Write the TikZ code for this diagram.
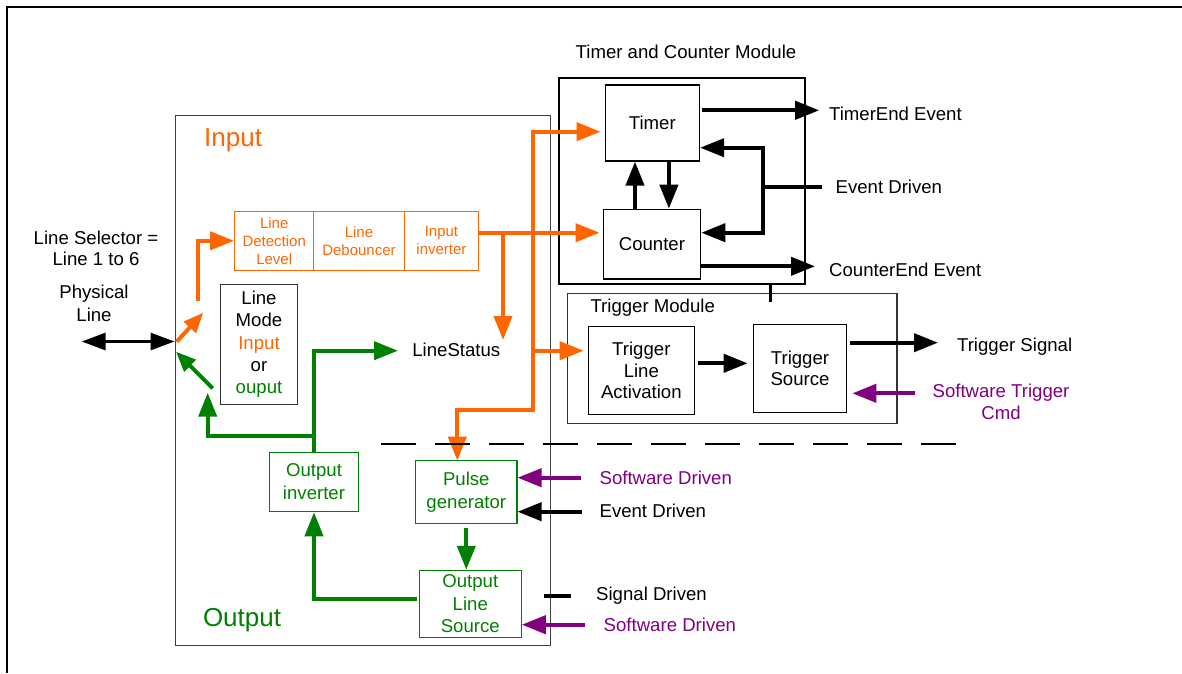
\documentclass[tikz,border=0pt]{standalone}
\usepackage{fontspec}
\setmainfont{Liberation Sans}
\usetikzlibrary{arrows.meta}
\definecolor{orng}{HTML}{FF6600}
\definecolor{grn}{HTML}{008000}
\definecolor{purp}{HTML}{800080}
\newcommand\fm{\fontsize{18.6}{22}\selectfont}
\newcommand\fo{\fontsize{15}{18}\selectfont}
\newcommand\fb{\fontsize{26}{30}\selectfont}
\begin{document}
\begin{tikzpicture}[x=1pt,y=-1pt,
  every node/.style={font=\fm,inner sep=0pt,align=center},
  bx/.style={draw=black,line width=1.2pt},
  obx/.style={draw=orng,line width=1pt,text=orng,font=\fo,minimum height=59pt},
  gbx/.style={draw=grn,line width=1.1pt,text=grn},
  tip/.style={-{Triangle[length=24pt,width=18pt]}},
  stip/.style={-{Triangle[length=20pt,width=16pt]}},
  barr/.style={draw=black,line width=4pt,tip},
  oarr/.style={draw=orng,line width=4pt,tip},
  garr/.style={draw=grn,line width=4pt,tip},
  parr/.style={draw=purp,line width=4pt,tip},
  bline/.style={draw=black,line width=4pt},
]
\useasboundingbox (0,0) rectangle (1182,673);
% outer frame
\draw[line width=2pt] (6.9,673) -- (6.9,7) -- (1182,7);

% boxes
\node[draw=black!75,line width=1pt,minimum width=375pt,minimum height=530.5pt] (main) at (362.5,380.25) {};
\node[draw,line width=2.2pt,minimum width=245.8pt,minimum height=206pt] (tcm) at (681.8,181.3) {};
\node[bx,minimum width=94.3pt,minimum height=76pt] (timer) at (652.35,123) {Timer};
\node[bx,minimum width=97.5pt,minimum height=69.7pt] (counter) at (651.95,244.15) {Counter};
\node[draw=black!80,line width=1.5pt,minimum width=329.6pt,minimum height=130pt] (trig) at (732.2,358.3) {};
\node[bx,minimum width=106.1pt,minimum height=87.6pt,font=\fontsize{18.6}{21.7}\selectfont] (tla) at (641.35,370.5) {Trigger\\Line\\Activation};
\node[bx,minimum width=93.4pt,minimum height=88pt,font=\fontsize{18.6}{21.7}\selectfont] (ts) at (800,368.3) {Trigger\\Source};

\node[obx,minimum width=79.2pt] (ldl) at (274.2,240.8) {Line\\Detection\\Level};
\node[obx,minimum width=90.3pt] (ldb) at (358.95,240.8) {Line\\Debouncer};
\node[obx,minimum width=74.7pt] (iinv) at (441.45,240.8) {Input\\inverter};

\node[draw=black!80,line width=1.2pt,minimum width=76.6pt,minimum height=120pt,font=\fontsize{18.6}{22.4}\selectfont] (lm) at (259,344.3) {Line\\Mode\\\textcolor{orng}{Input}\\or\\\textcolor{grn}{ouput}};

\node[gbx,minimum width=89.2pt,minimum height=59.4pt,font=\fontsize{18.6}{23}\selectfont] (oinv) at (314,482) {Output\\inverter};
\node[gbx,minimum width=101.4pt,minimum height=62.6pt,font=\fontsize{18.6}{22.6}\selectfont] (pgen) at (466.3,492) {Pulse\\generator};
\node[gbx,minimum width=101.8pt,minimum height=67pt,font=\fontsize{18.6}{22.5}\selectfont] (ols) at (470.3,603.8) {Output\\Line\\Source};

% labels
\node (tcml) at (686,51.7) {Timer and Counter Module};
\node[anchor=west] (tel) at (828.9,114) {TimerEnd Event};
\node[anchor=west] (edl) at (835.4,186.5) {Event Driven};
\node[anchor=west] (cel) at (829,270) {CounterEnd Event};
\node[anchor=west] (tml) at (590.3,308) {Trigger Module};
\node[anchor=west] (tsl) at (956.9,346.7) {Trigger Signal};
\node[text=purp,font=\fontsize{18.6}{21.7}\selectfont] (stl) at (1001,402) {Software Trigger\\Cmd};
\node[anchor=west] (lsl) at (412.2,350) {LineStatus};
\node[anchor=west,text=purp] (sw1) at (599.4,477.7) {Software Driven};
\node[anchor=west] (ed2) at (599.4,511) {Event Driven};
\node[anchor=west] (sdl) at (596,595.3) {Signal Driven};
\node[anchor=west,text=purp] (sw2) at (603.5,625) {Software Driven};
\node[font=\fontsize{18.6}{21.6}\selectfont] (lsel) at (96,248.5) {Line Selector =\\Line 1 to 6};
\node[font=\fontsize{18.6}{23.3}\selectfont] (phys) at (94,303.3) {Physical\\Line};
\node[anchor=west,font=\fb,text=orng] (inl) at (204,140) {Input};
\node[anchor=west,font=\fb,text=grn] (outl) at (202.8,620) {Output};

% physical line
\coordinate (plL) at (81.7,341.5);
\draw[line width=3pt,{Triangle[length=24pt,width=17pt]}-{Triangle[length=24pt,width=17pt]}] (plL) -- (main.west |- plL);

% orange connectors
\coordinate (od1) at (176.7,341.7);
\coordinate (od2) at (203.3,312.7);
\draw[draw=orng,line width=4pt,stip] (od1) -- (od2);
\coordinate (ov1) at (197.7,300.7);
\draw[oarr] (ov1) |- (ldl.west);
\coordinate (oy1) at (0,232.7);
\draw[oarr,shorten >=3pt] (iinv.east |- oy1) -- (counter.west |- oy1);
\coordinate (ob1) at (503,232.7);
\coordinate (ob2) at (503,340);
\draw[oarr] (ob1) -- (ob2);
\coordinate (ot) at (0,131.7);
\coordinate (oc) at (533,410);
\coordinate (pgin) at (457.3,460.7);
\draw[draw=orng,line width=4pt,{Triangle[length=24pt,width=18pt]}-{Triangle[length=24pt,width=18pt]},shorten <=4pt] (timer.west |- ot) -| (oc) -| (pgin);
\coordinate (oy3) at (0,350.7);
\draw[oarr,shorten >=4pt] (oc |- oy3) -- (tla.west |- oy3);

% green connectors
\coordinate (gd1) at (212.7,388.3);
\coordinate (gd2) at (176,351.7);
\draw[draw=grn,line width=4pt,stip] (gd1) -- (gd2);
\coordinate (gj) at (313.8,436);
\coordinate (lmup) at (207.7,392.7);
\draw[garr] (gj) -| (lmup);
\coordinate (lsa) at (398,350.7);
\draw[garr] (oinv.north) |- (lsa);
\coordinate (olsw) at (417,599.3);
\draw[garr] (olsw) -| (oinv.south);
\draw[garr] ([yshift=-4pt]pgen.south) -- (pgen.south |- ols.north);

% timer / counter
\coordinate (xa) at (635,0);
\coordinate (xb) at (668.9,0);
\draw[barr] (counter.north -| xa) -- (timer.south -| xa);
\draw[barr] (timer.south -| xb) -- (counter.north -| xb);
\coordinate (teE) at (819.2,110.3);
\draw[barr] ([xshift=2pt]timer.east |- teE) -- (teE);
\coordinate (edc) at (822,186.7);
\coordinate (evx) at (762.8,186.7);
\draw[bline] (edc) -- (evx);
\coordinate (ey1) at (0,147.7);
\coordinate (ey2) at (0,232.7);
\draw[barr] (evx) |- (timer.east |- ey1);
\draw[barr] (evx) |- (counter.east |- ey2);
\coordinate (ceE) at (815,266.3);
\draw[barr] (counter.east |- ceE) -- (ceE);
\coordinate (cn1) at (770,301.7);
\draw[line width=3pt] (tcm.south -| cn1) -- (cn1);

% trigger module
\coordinate (ty) at (0,363.3);
\draw[barr,shorten >=5pt] ([xshift=2.6pt]tla.east |- ty) -- (ts.west |- ty);
\coordinate (tsE) at (938,342.7);
\draw[barr] ([xshift=3pt]ts.east |- tsE) -- (tsE);
\coordinate (stc) at (915,393.3);
\draw[parr,shorten >=5pt] (stc) -- (ts.east |- stc);

% inputs of pulse generator / output line source
\coordinate (sw1s) at (581,477.7);
\draw[parr] (sw1s) -- (pgen.east |- sw1s);
\coordinate (ed2s) at (582,511.7);
\draw[barr] (ed2s) -- (pgen.east |- ed2s);
\coordinate (sd1) at (544.2,595.7);
\coordinate (sd2) at (571,595.7);
\draw[bline] (sd1) -- (sd2);
\coordinate (sw2s) at (585,624.7);
\draw[parr] (sw2s) -- (ols.east |- sw2s);

% dashed separator
\coordinate (da) at (380.8,444);
\coordinate (db) at (957,444);
\draw[line width=2pt,dash pattern=on 35pt off 19pt] (da) -- (db);
\end{tikzpicture}
\end{document}
